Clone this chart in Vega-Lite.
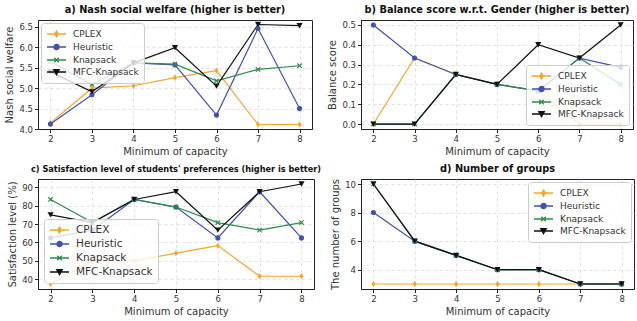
{
"$schema": "https://vega.github.io/schema/vega-lite/v6.json",
"padding": {"left": 4, "top": 4, "right": 3, "bottom": 3},
"config": {
 "font": "DejaVu Sans",
 "view": {"stroke": "#222", "strokeWidth": 1},
 "axis": {"labelFont": "DejaVu Sans", "labelFontSize": 8.5, "labelColor": "#333", "titleFont": "DejaVu Sans", "titleFontSize": 10, "titleFontWeight": "normal", "titleColor": "#333", "domainColor": "#222", "tickColor": "#222", "tickSize": 3.5, "gridColor": "#d8d8d8", "gridDash": [3, 3], "gridWidth": 0.8, "labelPadding": 2, "titlePadding": 3},
 "axisY": {"titlePadding": 4},
 "legend": {"labelFont": "DejaVu Sans", "labelColor": "#333", "title": null, "fillColor": "rgba(255,255,255,0.8)", "strokeColor": "#ccc", "padding": 5, "cornerRadius": 3, "labelFontSize": 9, "symbolSize": 100, "symbolStrokeWidth": 1.3, "rowPadding": 1, "labelOffset": 15},
 "title": {"font": "DejaVu Sans", "fontSize": 9.8, "fontWeight": "bold", "color": "#111", "frame": "group", "offset": 5}
},
"data": {"values": [
 {"p":"a","m":"CPLEX","x":2,"y":4.15},{"p":"a","m":"CPLEX","x":3,"y":5.0},{"p":"a","m":"CPLEX","x":4,"y":5.06},{"p":"a","m":"CPLEX","x":5,"y":5.26},{"p":"a","m":"CPLEX","x":6,"y":5.43},{"p":"a","m":"CPLEX","x":7,"y":4.11},{"p":"a","m":"CPLEX","x":8,"y":4.11},
 {"p":"a","m":"Heuristic","x":2,"y":4.12},{"p":"a","m":"Heuristic","x":3,"y":4.84},{"p":"a","m":"Heuristic","x":4,"y":5.62},{"p":"a","m":"Heuristic","x":5,"y":5.57},{"p":"a","m":"Heuristic","x":6,"y":4.34},{"p":"a","m":"Heuristic","x":7,"y":6.46},{"p":"a","m":"Heuristic","x":8,"y":4.5},
 {"p":"a","m":"Knapsack","x":2,"y":5.65},{"p":"a","m":"Knapsack","x":3,"y":5.09},{"p":"a","m":"Knapsack","x":4,"y":5.62},{"p":"a","m":"Knapsack","x":5,"y":5.59},{"p":"a","m":"Knapsack","x":6,"y":5.18},{"p":"a","m":"Knapsack","x":7,"y":5.46},{"p":"a","m":"Knapsack","x":8,"y":5.55},
 {"p":"a","m":"MFC-Knapsack","x":2,"y":5.4},{"p":"a","m":"MFC-Knapsack","x":3,"y":4.91},{"p":"a","m":"MFC-Knapsack","x":4,"y":5.62},{"p":"a","m":"MFC-Knapsack","x":5,"y":5.99},{"p":"a","m":"MFC-Knapsack","x":6,"y":5.05},{"p":"a","m":"MFC-Knapsack","x":7,"y":6.56},{"p":"a","m":"MFC-Knapsack","x":8,"y":6.53},
 {"p":"b","m":"CPLEX","x":2,"y":0},{"p":"b","m":"CPLEX","x":3,"y":0.333},{"p":"b","m":"CPLEX","x":4,"y":0.25},{"p":"b","m":"CPLEX","x":5,"y":0.2},{"p":"b","m":"CPLEX","x":6,"y":0.167},{"p":"b","m":"CPLEX","x":7,"y":0},{"p":"b","m":"CPLEX","x":8,"y":0},
 {"p":"b","m":"Heuristic","x":2,"y":0.5},{"p":"b","m":"Heuristic","x":3,"y":0.333},{"p":"b","m":"Heuristic","x":4,"y":0.25},{"p":"b","m":"Heuristic","x":5,"y":0.2},{"p":"b","m":"Heuristic","x":6,"y":0.167},{"p":"b","m":"Heuristic","x":7,"y":0.333},{"p":"b","m":"Heuristic","x":8,"y":0.286},
 {"p":"b","m":"Knapsack","x":2,"y":0},{"p":"b","m":"Knapsack","x":3,"y":0},{"p":"b","m":"Knapsack","x":4,"y":0.25},{"p":"b","m":"Knapsack","x":5,"y":0.2},{"p":"b","m":"Knapsack","x":6,"y":0.167},{"p":"b","m":"Knapsack","x":7,"y":0.333},{"p":"b","m":"Knapsack","x":8,"y":0.2},
 {"p":"b","m":"MFC-Knapsack","x":2,"y":0},{"p":"b","m":"MFC-Knapsack","x":3,"y":0},{"p":"b","m":"MFC-Knapsack","x":4,"y":0.25},{"p":"b","m":"MFC-Knapsack","x":5,"y":0.2},{"p":"b","m":"MFC-Knapsack","x":6,"y":0.4},{"p":"b","m":"MFC-Knapsack","x":7,"y":0.333},{"p":"b","m":"MFC-Knapsack","x":8,"y":0.5},
 {"p":"c","m":"CPLEX","x":2,"y":37.5},{"p":"c","m":"CPLEX","x":3,"y":50},{"p":"c","m":"CPLEX","x":4,"y":50},{"p":"c","m":"CPLEX","x":5,"y":54.2},{"p":"c","m":"CPLEX","x":6,"y":58.3},{"p":"c","m":"CPLEX","x":7,"y":41.7},{"p":"c","m":"CPLEX","x":8,"y":41.7},
 {"p":"c","m":"Heuristic","x":2,"y":62.5},{"p":"c","m":"Heuristic","x":3,"y":66.7},{"p":"c","m":"Heuristic","x":4,"y":83.3},{"p":"c","m":"Heuristic","x":5,"y":79.2},{"p":"c","m":"Heuristic","x":6,"y":62.5},{"p":"c","m":"Heuristic","x":7,"y":87.5},{"p":"c","m":"Heuristic","x":8,"y":62.5},
 {"p":"c","m":"Knapsack","x":2,"y":83.3},{"p":"c","m":"Knapsack","x":3,"y":70.8},{"p":"c","m":"Knapsack","x":4,"y":83.3},{"p":"c","m":"Knapsack","x":5,"y":79.2},{"p":"c","m":"Knapsack","x":6,"y":70.8},{"p":"c","m":"Knapsack","x":7,"y":66.7},{"p":"c","m":"Knapsack","x":8,"y":70.8},
 {"p":"c","m":"MFC-Knapsack","x":2,"y":75},{"p":"c","m":"MFC-Knapsack","x":3,"y":70.8},{"p":"c","m":"MFC-Knapsack","x":4,"y":83.3},{"p":"c","m":"MFC-Knapsack","x":5,"y":87.5},{"p":"c","m":"MFC-Knapsack","x":6,"y":66.7},{"p":"c","m":"MFC-Knapsack","x":7,"y":87.5},{"p":"c","m":"MFC-Knapsack","x":8,"y":91.7},
 {"p":"d","m":"CPLEX","x":2,"y":3},{"p":"d","m":"CPLEX","x":3,"y":3},{"p":"d","m":"CPLEX","x":4,"y":3},{"p":"d","m":"CPLEX","x":5,"y":3},{"p":"d","m":"CPLEX","x":6,"y":3},{"p":"d","m":"CPLEX","x":7,"y":3},{"p":"d","m":"CPLEX","x":8,"y":3},
 {"p":"d","m":"Heuristic","x":2,"y":8},{"p":"d","m":"Heuristic","x":3,"y":6},{"p":"d","m":"Heuristic","x":4,"y":5},{"p":"d","m":"Heuristic","x":5,"y":4},{"p":"d","m":"Heuristic","x":6,"y":4},{"p":"d","m":"Heuristic","x":7,"y":3},{"p":"d","m":"Heuristic","x":8,"y":3},
 {"p":"d","m":"Knapsack","x":2,"y":10},{"p":"d","m":"Knapsack","x":3,"y":6},{"p":"d","m":"Knapsack","x":4,"y":5},{"p":"d","m":"Knapsack","x":5,"y":4},{"p":"d","m":"Knapsack","x":6,"y":4},{"p":"d","m":"Knapsack","x":7,"y":3},{"p":"d","m":"Knapsack","x":8,"y":3},
 {"p":"d","m":"MFC-Knapsack","x":2,"y":10},{"p":"d","m":"MFC-Knapsack","x":3,"y":6},{"p":"d","m":"MFC-Knapsack","x":4,"y":5},{"p":"d","m":"MFC-Knapsack","x":5,"y":4},{"p":"d","m":"MFC-Knapsack","x":6,"y":4},{"p":"d","m":"MFC-Knapsack","x":7,"y":3},{"p":"d","m":"MFC-Knapsack","x":8,"y":3}
]},
"resolve": {"scale": {"stroke": "independent", "fill": "independent"}, "legend": {"stroke": "independent", "fill": "independent"}},
"spacing": 6,
"vconcat": [
 {"hconcat": [
  {"width": 274, "height": 109,
   "title": {"text": "a) Nash social welfare (higher is better)"},
   "transform": [{"filter": "datum.p === 'a'"}],
   "encoding": {
    "x": {"field": "x", "type": "quantitative", "scale": {"domain": [1.7, 8.3], "nice": false, "zero": false}, "axis": {"values": [2,3,4,5,6,7,8], "format": "d", "title": "Minimum of capacity"}},
    "y": {"field": "y", "type": "quantitative", "scale": {"domain": [4.0, 6.67], "nice": false, "zero": false}, "axis": {"values": [4,4.5,5,5.5,6,6.5], "format": ".1f", "title": "Nash social welfare"}}
   },
   "layer": [
    {"mark": {"type": "line", "strokeWidth": 1.2}, "encoding": {"stroke": {"field": "m", "type": "nominal", "scale": {"domain": ["CPLEX","Heuristic","Knapsack","MFC-Knapsack"], "range": ["#F5A52C","#4052B2","#2E8B50","#111111"]}, "legend": {"orient": "top-left", "offset": 3, "encode": {"symbols": {"update": {"shape": {"signal": "datum.value === 'CPLEX' ? 'M-1,0H2.8M0.9,-0.6L1.26,0L0.9,0.6L0.54,0Z' : datum.value === 'Heuristic' ? 'M-1,0H2.8M0.4,0A0.5,0.5 0 1,0 1.4,0A0.5,0.5 0 1,0 0.4,0Z' : datum.value === 'Knapsack' ? 'M-1,0H2.8M0.45,-0.45L1.35,0.45M0.45,0.45L1.35,-0.45' : 'M-1,0H2.8M0.35,-0.45L1.45,-0.45L0.9,0.55Z'"}}}}}}}},
    {"transform": [{"filter": "datum.m === 'CPLEX'"}], "mark": {"type": "point", "filled": true, "size": 40, "shape": "M0,-1L0.6,0L0,1L-0.6,0Z", "opacity": 1}, "encoding": {"fill": {"field": "m", "type": "nominal", "scale": {"domain": ["CPLEX","Heuristic","Knapsack","MFC-Knapsack"], "range": ["#F5A52C","#4052B2","#2E8B50","#111111"]}, "legend": {"orient": "top-left", "offset": 3, "encode": {"symbols": {"update": {"shape": {"signal": "datum.value === 'CPLEX' ? 'M-1,0H2.8M0.9,-0.6L1.26,0L0.9,0.6L0.54,0Z' : datum.value === 'Heuristic' ? 'M-1,0H2.8M0.4,0A0.5,0.5 0 1,0 1.4,0A0.5,0.5 0 1,0 0.4,0Z' : datum.value === 'Knapsack' ? 'M-1,0H2.8M0.45,-0.45L1.35,0.45M0.45,0.45L1.35,-0.45' : 'M-1,0H2.8M0.35,-0.45L1.45,-0.45L0.9,0.55Z'"}}}}}}}},
    {"transform": [{"filter": "datum.m === 'Heuristic'"}], "mark": {"type": "point", "filled": true, "size": 26, "shape": "circle", "opacity": 1}, "encoding": {"fill": {"field": "m", "type": "nominal"}}},
    {"transform": [{"filter": "datum.m === 'Knapsack'"}], "mark": {"type": "point", "filled": false, "size": 30, "strokeWidth": 1.2, "shape": "M-0.8,-0.8L0.8,0.8M-0.8,0.8L0.8,-0.8", "opacity": 1}, "encoding": {"stroke": {"field": "m", "type": "nominal"}}},
    {"transform": [{"filter": "datum.m === 'MFC-Knapsack'"}], "mark": {"type": "point", "filled": true, "size": 38, "shape": "triangle-down", "opacity": 1}, "encoding": {"fill": {"field": "m", "type": "nominal"}}}
   ]},
  {"width": 272, "height": 109,
   "title": {"text": "b) Balance score w.r.t. Gender (higher is better)"},
   "transform": [{"filter": "datum.p === 'b'"}],
   "encoding": {
    "x": {"field": "x", "type": "quantitative", "scale": {"domain": [1.7, 8.3], "nice": false, "zero": false}, "axis": {"values": [2,3,4,5,6,7,8], "format": "d", "title": "Minimum of capacity"}},
    "y": {"field": "y", "type": "quantitative", "scale": {"domain": [-0.025, 0.525], "nice": false, "zero": false}, "axis": {"values": [0,0.1,0.2,0.3,0.4,0.5], "format": ".1f", "title": "Balance score"}}
   },
   "layer": [
    {"mark": {"type": "line", "strokeWidth": 1.2}, "encoding": {"stroke": {"field": "m", "type": "nominal", "scale": {"domain": ["CPLEX","Heuristic","Knapsack","MFC-Knapsack"], "range": ["#F5A52C","#4052B2","#2E8B50","#111111"]}, "legend": {"orient": "bottom-right", "offset": 4, "encode": {"symbols": {"update": {"shape": {"signal": "datum.value === 'CPLEX' ? 'M-1,0H2.8M0.9,-0.6L1.26,0L0.9,0.6L0.54,0Z' : datum.value === 'Heuristic' ? 'M-1,0H2.8M0.4,0A0.5,0.5 0 1,0 1.4,0A0.5,0.5 0 1,0 0.4,0Z' : datum.value === 'Knapsack' ? 'M-1,0H2.8M0.45,-0.45L1.35,0.45M0.45,0.45L1.35,-0.45' : 'M-1,0H2.8M0.35,-0.45L1.45,-0.45L0.9,0.55Z'"}}}}}}}},
    {"transform": [{"filter": "datum.m === 'CPLEX'"}], "mark": {"type": "point", "filled": true, "size": 40, "shape": "M0,-1L0.6,0L0,1L-0.6,0Z", "opacity": 1}, "encoding": {"fill": {"field": "m", "type": "nominal", "scale": {"domain": ["CPLEX","Heuristic","Knapsack","MFC-Knapsack"], "range": ["#F5A52C","#4052B2","#2E8B50","#111111"]}, "legend": {"orient": "bottom-right", "offset": 4, "encode": {"symbols": {"update": {"shape": {"signal": "datum.value === 'CPLEX' ? 'M-1,0H2.8M0.9,-0.6L1.26,0L0.9,0.6L0.54,0Z' : datum.value === 'Heuristic' ? 'M-1,0H2.8M0.4,0A0.5,0.5 0 1,0 1.4,0A0.5,0.5 0 1,0 0.4,0Z' : datum.value === 'Knapsack' ? 'M-1,0H2.8M0.45,-0.45L1.35,0.45M0.45,0.45L1.35,-0.45' : 'M-1,0H2.8M0.35,-0.45L1.45,-0.45L0.9,0.55Z'"}}}}}}}},
    {"transform": [{"filter": "datum.m === 'Heuristic'"}], "mark": {"type": "point", "filled": true, "size": 26, "shape": "circle", "opacity": 1}, "encoding": {"fill": {"field": "m", "type": "nominal"}}},
    {"transform": [{"filter": "datum.m === 'Knapsack'"}], "mark": {"type": "point", "filled": false, "size": 30, "strokeWidth": 1.2, "shape": "M-0.8,-0.8L0.8,0.8M-0.8,0.8L0.8,-0.8", "opacity": 1}, "encoding": {"stroke": {"field": "m", "type": "nominal"}}},
    {"transform": [{"filter": "datum.m === 'MFC-Knapsack'"}], "mark": {"type": "point", "filled": true, "size": 38, "shape": "triangle-down", "opacity": 1}, "encoding": {"fill": {"field": "m", "type": "nominal"}}}
   ]}
 ], "spacing": 49, "bounds": "flush",
 "resolve": {"scale": {"stroke": "independent", "fill": "independent"}, "legend": {"stroke": "independent", "fill": "independent"}}},
 {"hconcat": [
  {"width": 276, "height": 110,
   "title": {"text": "c) Satisfaction level of students' preferences (higher is better)", "fontSize": 8.2},
   "transform": [{"filter": "datum.p === 'c'"}],
   "encoding": {
    "x": {"field": "x", "type": "quantitative", "scale": {"domain": [1.7, 8.3], "nice": false, "zero": false}, "axis": {"values": [2,3,4,5,6,7,8], "format": "d", "title": "Minimum of capacity"}},
    "y": {"field": "y", "type": "quantitative", "scale": {"domain": [34.8, 94.4], "nice": false, "zero": false}, "axis": {"values": [40,50,60,70,80,90], "format": "d", "title": "Satisfaction level (%)"}}
   },
   "layer": [
    {"mark": {"type": "line", "strokeWidth": 1.2}, "encoding": {"stroke": {"field": "m", "type": "nominal", "scale": {"domain": ["CPLEX","Heuristic","Knapsack","MFC-Knapsack"], "range": ["#F5A52C","#4052B2","#2E8B50","#111111"]}, "legend": {"orient": "bottom-left", "offset": 6, "labelFontSize": 10.5, "rowPadding": 2, "encode": {"symbols": {"update": {"shape": {"signal": "datum.value === 'CPLEX' ? 'M-1,0H2.8M0.9,-0.6L1.26,0L0.9,0.6L0.54,0Z' : datum.value === 'Heuristic' ? 'M-1,0H2.8M0.4,0A0.5,0.5 0 1,0 1.4,0A0.5,0.5 0 1,0 0.4,0Z' : datum.value === 'Knapsack' ? 'M-1,0H2.8M0.45,-0.45L1.35,0.45M0.45,0.45L1.35,-0.45' : 'M-1,0H2.8M0.35,-0.45L1.45,-0.45L0.9,0.55Z'"}}}}}}}},
    {"transform": [{"filter": "datum.m === 'CPLEX'"}], "mark": {"type": "point", "filled": true, "size": 40, "shape": "M0,-1L0.6,0L0,1L-0.6,0Z", "opacity": 1}, "encoding": {"fill": {"field": "m", "type": "nominal", "scale": {"domain": ["CPLEX","Heuristic","Knapsack","MFC-Knapsack"], "range": ["#F5A52C","#4052B2","#2E8B50","#111111"]}, "legend": {"orient": "bottom-left", "offset": 6, "labelFontSize": 10.5, "rowPadding": 2, "encode": {"symbols": {"update": {"shape": {"signal": "datum.value === 'CPLEX' ? 'M-1,0H2.8M0.9,-0.6L1.26,0L0.9,0.6L0.54,0Z' : datum.value === 'Heuristic' ? 'M-1,0H2.8M0.4,0A0.5,0.5 0 1,0 1.4,0A0.5,0.5 0 1,0 0.4,0Z' : datum.value === 'Knapsack' ? 'M-1,0H2.8M0.45,-0.45L1.35,0.45M0.45,0.45L1.35,-0.45' : 'M-1,0H2.8M0.35,-0.45L1.45,-0.45L0.9,0.55Z'"}}}}}}}},
    {"transform": [{"filter": "datum.m === 'Heuristic'"}], "mark": {"type": "point", "filled": true, "size": 26, "shape": "circle", "opacity": 1}, "encoding": {"fill": {"field": "m", "type": "nominal"}}},
    {"transform": [{"filter": "datum.m === 'Knapsack'"}], "mark": {"type": "point", "filled": false, "size": 30, "strokeWidth": 1.2, "shape": "M-0.8,-0.8L0.8,0.8M-0.8,0.8L0.8,-0.8", "opacity": 1}, "encoding": {"stroke": {"field": "m", "type": "nominal"}}},
    {"transform": [{"filter": "datum.m === 'MFC-Knapsack'"}], "mark": {"type": "point", "filled": true, "size": 38, "shape": "triangle-down", "opacity": 1}, "encoding": {"fill": {"field": "m", "type": "nominal"}}}
   ]},
  {"width": 273, "height": 110,
   "title": {"text": "d) Number of groups"},
   "transform": [{"filter": "datum.p === 'd'"}],
   "encoding": {
    "x": {"field": "x", "type": "quantitative", "scale": {"domain": [1.7, 8.3], "nice": false, "zero": false}, "axis": {"values": [2,3,4,5,6,7,8], "format": "d", "title": "Minimum of capacity"}},
    "y": {"field": "y", "type": "quantitative", "scale": {"domain": [2.65, 10.35], "nice": false, "zero": false}, "axis": {"values": [4,6,8,10], "format": "d", "title": "The number of groups"}}
   },
   "layer": [
    {"mark": {"type": "line", "strokeWidth": 1.2}, "encoding": {"stroke": {"field": "m", "type": "nominal", "scale": {"domain": ["CPLEX","Heuristic","Knapsack","MFC-Knapsack"], "range": ["#F5A52C","#4052B2","#2E8B50","#111111"]}, "legend": {"orient": "top-right", "offset": 3, "encode": {"symbols": {"update": {"shape": {"signal": "datum.value === 'CPLEX' ? 'M-1,0H2.8M0.9,-0.6L1.26,0L0.9,0.6L0.54,0Z' : datum.value === 'Heuristic' ? 'M-1,0H2.8M0.4,0A0.5,0.5 0 1,0 1.4,0A0.5,0.5 0 1,0 0.4,0Z' : datum.value === 'Knapsack' ? 'M-1,0H2.8M0.45,-0.45L1.35,0.45M0.45,0.45L1.35,-0.45' : 'M-1,0H2.8M0.35,-0.45L1.45,-0.45L0.9,0.55Z'"}}}}}}}},
    {"transform": [{"filter": "datum.m === 'CPLEX'"}], "mark": {"type": "point", "filled": true, "size": 40, "shape": "M0,-1L0.6,0L0,1L-0.6,0Z", "opacity": 1}, "encoding": {"fill": {"field": "m", "type": "nominal", "scale": {"domain": ["CPLEX","Heuristic","Knapsack","MFC-Knapsack"], "range": ["#F5A52C","#4052B2","#2E8B50","#111111"]}, "legend": {"orient": "top-right", "offset": 3, "encode": {"symbols": {"update": {"shape": {"signal": "datum.value === 'CPLEX' ? 'M-1,0H2.8M0.9,-0.6L1.26,0L0.9,0.6L0.54,0Z' : datum.value === 'Heuristic' ? 'M-1,0H2.8M0.4,0A0.5,0.5 0 1,0 1.4,0A0.5,0.5 0 1,0 0.4,0Z' : datum.value === 'Knapsack' ? 'M-1,0H2.8M0.45,-0.45L1.35,0.45M0.45,0.45L1.35,-0.45' : 'M-1,0H2.8M0.35,-0.45L1.45,-0.45L0.9,0.55Z'"}}}}}}}},
    {"transform": [{"filter": "datum.m === 'Heuristic'"}], "mark": {"type": "point", "filled": true, "size": 26, "shape": "circle", "opacity": 1}, "encoding": {"fill": {"field": "m", "type": "nominal"}}},
    {"transform": [{"filter": "datum.m === 'Knapsack'"}], "mark": {"type": "point", "filled": false, "size": 30, "strokeWidth": 1.2, "shape": "M-0.8,-0.8L0.8,0.8M-0.8,0.8L0.8,-0.8", "opacity": 1}, "encoding": {"stroke": {"field": "m", "type": "nominal"}}},
    {"transform": [{"filter": "datum.m === 'MFC-Knapsack'"}], "mark": {"type": "point", "filled": true, "size": 38, "shape": "triangle-down", "opacity": 1}, "encoding": {"fill": {"field": "m", "type": "nominal"}}}
   ]}
 ], "spacing": 47, "bounds": "flush",
 "resolve": {"scale": {"stroke": "independent", "fill": "independent"}, "legend": {"stroke": "independent", "fill": "independent"}}}
]
}
